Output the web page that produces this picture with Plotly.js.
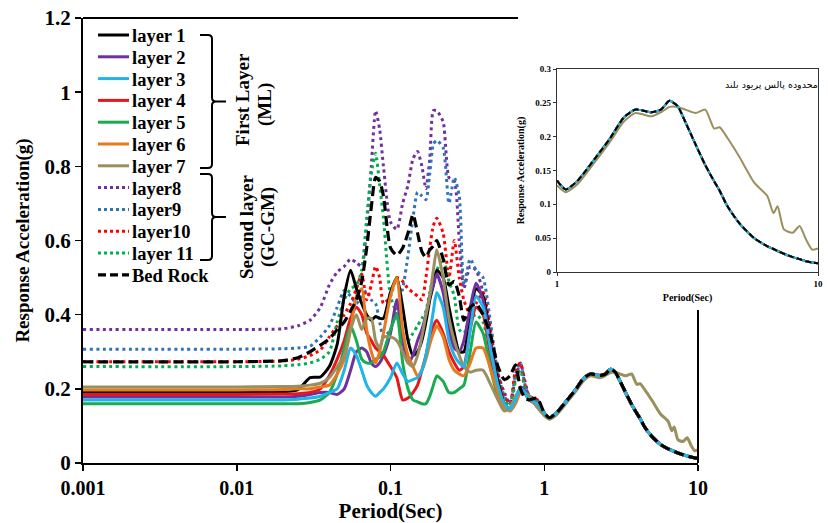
<!DOCTYPE html>
<html>
<head>
<meta charset="utf-8">
<script src="https://cdn.plot.ly/plotly-3.0.1.min.js"></script>
<style>
  html, body { margin: 0; padding: 0; background: #fff; }
  #chart { width: 828px; height: 523px; }
</style>
</head>
<body>
<div id="chart"></div>
<script>
// periods (s) for the short-period part and the long-period part
const periodsShort = [0.001, 0.01, 0.02, 0.025, 0.03, 0.035, 0.04, 0.045, 0.05,
  0.055, 0.06, 0.065, 0.07, 0.075, 0.08, 0.085, 0.09, 0.1,
  0.11, 0.12, 0.13, 0.14, 0.15, 0.16, 0.17, 0.18, 0.19,
  0.2, 0.22, 0.24, 0.26, 0.28, 0.3, 0.33, 0.36, 0.4,
  0.45, 0.5, 0.55, 0.6, 0.65, 0.7, 0.75, 0.8, 0.9];
const periodsLong = [1.0, 1.08, 1.2, 1.4, 1.6, 1.8, 2.0, 2.3, 2.5, 2.7, 2.9, 3.1, 3.4, 3.7,
  4.0, 4.2, 4.5, 5.0, 5.7, 6.4, 6.75, 7.0, 7.4, 8.0, 8.5, 9.0, 9.5, 10.0];

// spectral acceleration (g), short-period part
const layer1 = [0.19, 0.19, 0.192, 0.198, 0.23, 0.232, 0.26, 0.32, 0.45,
  0.52, 0.47, 0.43, 0.40, 0.385, 0.395, 0.39, 0.39, 0.46,
  0.50, 0.42, 0.33, 0.29, 0.30, 0.33, 0.38, 0.44, 0.48,
  0.52, 0.50, 0.42, 0.35, 0.30, 0.30, 0.40, 0.47, 0.45,
  0.32, 0.22, 0.16, 0.145, 0.17, 0.20, 0.19, 0.17, 0.16];
const layer2 = [0.178, 0.178, 0.178, 0.18, 0.185, 0.19, 0.19, 0.185, 0.20,
  0.25, 0.30, 0.31, 0.30, 0.27, 0.26, 0.27, 0.29, 0.35,
  0.44, 0.33, 0.27, 0.29, 0.33, 0.36, 0.40, 0.45, 0.48,
  0.51, 0.46, 0.36, 0.31, 0.30, 0.33, 0.42, 0.485, 0.44,
  0.32, 0.20, 0.155, 0.145, 0.17, 0.205, 0.195, 0.175, 0.16];
const layer3 = [0.17, 0.17, 0.17, 0.172, 0.175, 0.18, 0.19, 0.20, 0.25,
  0.31, 0.29, 0.25, 0.21, 0.19, 0.18, 0.19, 0.20, 0.23,
  0.27, 0.24, 0.22, 0.225, 0.23, 0.25, 0.29, 0.35, 0.41,
  0.46, 0.42, 0.33, 0.29, 0.27, 0.26, 0.36, 0.45, 0.42,
  0.30, 0.21, 0.16, 0.145, 0.17, 0.20, 0.19, 0.17, 0.16];
const layer4 = [0.185, 0.185, 0.186, 0.187, 0.19, 0.20, 0.235, 0.28, 0.33,
  0.39, 0.42, 0.40, 0.35, 0.33, 0.31, 0.30, 0.29, 0.26,
  0.23, 0.17, 0.175, 0.19, 0.21, 0.25, 0.29, 0.34, 0.37,
  0.385, 0.35, 0.30, 0.27, 0.25, 0.26, 0.36, 0.42, 0.40,
  0.28, 0.20, 0.155, 0.145, 0.17, 0.20, 0.19, 0.17, 0.16];
const layer5 = [0.16, 0.16, 0.16, 0.16, 0.163, 0.17, 0.19, 0.24, 0.31,
  0.37, 0.33, 0.28, 0.27, 0.27, 0.28, 0.285, 0.30, 0.36,
  0.40, 0.27, 0.20, 0.17, 0.165, 0.16, 0.16, 0.18, 0.21,
  0.235, 0.22, 0.19, 0.19, 0.20, 0.21, 0.30, 0.38, 0.35,
  0.25, 0.18, 0.15, 0.145, 0.17, 0.20, 0.19, 0.17, 0.16];
const layer6 = [0.197, 0.197, 0.198, 0.20, 0.20, 0.205, 0.21, 0.24, 0.28,
  0.36, 0.45, 0.47, 0.36, 0.30, 0.27, 0.30, 0.35, 0.45,
  0.50, 0.36, 0.29, 0.26, 0.235, 0.25, 0.28, 0.32, 0.35,
  0.37, 0.34, 0.28, 0.25, 0.24, 0.235, 0.27, 0.31, 0.31,
  0.25, 0.19, 0.15, 0.14, 0.16, 0.19, 0.185, 0.17, 0.155];
const layer7 = [0.205, 0.205, 0.206, 0.207, 0.21, 0.215, 0.23, 0.26, 0.29,
  0.36, 0.40, 0.36, 0.39, 0.39, 0.33, 0.31, 0.34, 0.34,
  0.33, 0.30, 0.27, 0.26, 0.29, 0.34, 0.40, 0.45, 0.52,
  0.575, 0.50, 0.39, 0.33, 0.29, 0.26, 0.245, 0.25, 0.25,
  0.21, 0.17, 0.14, 0.15, 0.18, 0.20, 0.19, 0.18, 0.15];
const layer8 = [0.36, 0.36, 0.362, 0.37, 0.385, 0.42, 0.48, 0.515, 0.53,
  0.55, 0.54, 0.53, 0.64, 0.80, 0.95, 0.90, 0.80, 0.65,
  0.63, 0.70, 0.75, 0.82, 0.84, 0.80, 0.74, 0.82, 0.95,
  0.95, 0.92, 0.77, 0.76, 0.60, 0.47, 0.53, 0.52, 0.46,
  0.33, 0.24, 0.19, 0.16, 0.23, 0.27, 0.22, 0.18, 0.17];
const layer9 = [0.307, 0.307, 0.308, 0.31, 0.315, 0.34, 0.37, 0.42, 0.465,
  0.45, 0.43, 0.45, 0.465, 0.44, 0.43, 0.38, 0.34, 0.36,
  0.42, 0.47, 0.56, 0.66, 0.73, 0.72, 0.71, 0.78, 0.86,
  0.87, 0.85, 0.70, 0.77, 0.72, 0.48, 0.55, 0.52, 0.50,
  0.37, 0.24, 0.18, 0.16, 0.24, 0.27, 0.21, 0.18, 0.17];
const layer10 = [0.273, 0.273, 0.275, 0.28, 0.29, 0.305, 0.34, 0.37, 0.40,
  0.43, 0.47, 0.51, 0.44, 0.48, 0.53, 0.50, 0.43, 0.45,
  0.50, 0.49, 0.47, 0.46, 0.45, 0.44, 0.50, 0.58, 0.64,
  0.66, 0.62, 0.50, 0.60, 0.50, 0.44, 0.40, 0.43, 0.46,
  0.35, 0.24, 0.18, 0.16, 0.25, 0.27, 0.21, 0.18, 0.17];
const layer11 = [0.26, 0.26, 0.262, 0.265, 0.27, 0.28, 0.30, 0.38, 0.44,
  0.47, 0.48, 0.52, 0.66, 0.78, 0.835, 0.75, 0.66, 0.45,
  0.40, 0.34, 0.33, 0.35, 0.37, 0.39, 0.41, 0.46, 0.50,
  0.52, 0.55, 0.49, 0.45, 0.36, 0.35, 0.39, 0.40, 0.38,
  0.28, 0.22, 0.17, 0.155, 0.22, 0.25, 0.20, 0.18, 0.165];
const bedRock = [0.273, 0.273, 0.276, 0.284, 0.30, 0.318, 0.335, 0.36, 0.38,
  0.41, 0.44, 0.49, 0.58, 0.69, 0.77, 0.76, 0.72, 0.58,
  0.56, 0.58, 0.62, 0.67, 0.62, 0.57, 0.555, 0.575, 0.585,
  0.60, 0.55, 0.48, 0.49, 0.45, 0.385, 0.42, 0.43, 0.40,
  0.34, 0.26, 0.225, 0.235, 0.265, 0.20, 0.175, 0.17, 0.175];

// long-period part: every record follows the rock motion except layer 7
const longCommon = [0.135, 0.122, 0.135, 0.168, 0.198, 0.228, 0.24, 0.236, 0.24, 0.253, 0.245, 0.222, 0.188, 0.158,
  0.134, 0.12, 0.097, 0.072, 0.05, 0.038, 0.034, 0.031, 0.027, 0.022, 0.019, 0.016, 0.014, 0.013];
const longLayer7 = [0.128, 0.118, 0.13, 0.163, 0.193, 0.222, 0.235, 0.23, 0.236, 0.244, 0.244, 0.24, 0.235, 0.24,
  0.212, 0.214, 0.198, 0.17, 0.132, 0.112, 0.087, 0.097, 0.063, 0.058, 0.068, 0.048, 0.033, 0.035];

const names = ['layer 1', 'layer 2', 'layer 3', 'layer 4', 'layer 5', 'layer 6', 'layer 7',
  'layer8', 'layer9', 'layer10', 'layer 11', 'Bed Rock'];
const colors = ['#000000', '#7030a0', '#1fb4ea', '#e8161b', '#1aab4f', '#e57a1f', '#9a8f5e',
  '#7030a0', '#2e75b6', '#ff0000', '#00b050', '#000000'];

const serif = 'Liberation Serif, Times New Roman, serif';
const px = x => x / 828;
const py = y => 1 - y / 523;

const periods = periodsShort.concat(periodsLong);
const shortSets = [layer1, layer2, layer3, layer4, layer5, layer6, layer7,
  layer8, layer9, layer10, layer11, bedRock];
const series = shortSets.map((s, i) => s.concat(i === 6 ? longLayer7 : longCommon));

function style(i, inset) {
  if (i >= 7 && i <= 10) return { color: colors[i], width: inset ? 1.6 : 3, dash: inset ? '2px,2px' : '3px,3.5px' };
  if (i === 11) return { color: colors[i], width: inset ? 2 : 3.2, dash: inset ? '6px,3px' : '10px,5px' };
  return { color: colors[i], width: inset ? 2 : 3 };
}

// draw order: dotted first, then solid, rock on top
const drawOrder = [7, 8, 9, 10, 0, 1, 3, 4, 5, 6, 2, 11];
const traces = [];
drawOrder.forEach(i => {
  traces.push({
    x: periods, y: series[i], mode: 'lines', name: names[i], showlegend: false,
    line: Object.assign(style(i, false), { shape: 'spline', smoothing: 0.6 }),
    xaxis: 'x', yaxis: 'y',
  });
});
[0, 1, 3, 4, 5, 7, 8, 9, 10, 6, 2, 11].forEach(i => {
  traces.push({
    x: periodsLong, y: i === 6 ? longLayer7 : longCommon, mode: 'lines', name: names[i],
    showlegend: false,
    line: Object.assign(style(i, true), { shape: 'spline', smoothing: 0.6 }),
    xaxis: 'x2', yaxis: 'y2',
  });
});

function bracket(top, bottom) {
  const mid = (top + bottom) / 2, v = 212;
  const pts = [['M', 200, top], ['L', 208, top], ['Q', v, top, v, top + 4], ['L', v, mid - 4],
    ['Q', v, mid, v + 4, mid], ['L', 226, mid], ['M', v + 4, mid], ['Q', v, mid, v, mid + 4],
    ['L', v, bottom - 4], ['Q', v, bottom, 208, bottom], ['L', 200, bottom]];
  return pts.map(p => {
    let s = p[0];
    for (let k = 1; k < p.length; k += 2) s += ' ' + px(p[k]) + ',' + py(p[k + 1]);
    return s;
  }).join(' ');
}

const bold = (size) => ({ family: serif, size: size, color: '#000', weight: 'bold' });

const shapes = [
  { type: 'line', xref: 'paper', yref: 'paper', x0: px(83), x1: px(518), y0: py(18), y1: py(18),
    line: { color: '#000', width: 2 } },
  { type: 'line', xref: 'paper', yref: 'paper', x0: px(698), x1: px(698), y0: py(310), y1: py(463),
    line: { color: '#000', width: 2 } },
  { type: 'path', xref: 'paper', yref: 'paper', path: bracket(35, 168), line: { color: '#000', width: 2 } },
  { type: 'path', xref: 'paper', yref: 'paper', path: bracket(174, 260), line: { color: '#000', width: 2 } },
];
const annotations = [
  { xref: 'paper', yref: 'paper', x: px(243), y: py(100), text: 'First Layer',
    textangle: -90, xanchor: 'center', yanchor: 'middle', showarrow: false, font: bold(19) },
  { xref: 'paper', yref: 'paper', x: px(265), y: py(105), text: '(ML)',
    textangle: -90, xanchor: 'center', yanchor: 'middle', showarrow: false, font: bold(19) },
  { xref: 'paper', yref: 'paper', x: px(247), y: py(227), text: 'Second layer',
    textangle: -90, xanchor: 'center', yanchor: 'middle', showarrow: false, font: bold(19) },
  { xref: 'paper', yref: 'paper', x: px(268), y: py(227), text: '(GC-GM)',
    textangle: -90, xanchor: 'center', yanchor: 'middle', showarrow: false, font: bold(19) },
  { xref: 'paper', yref: 'paper', x: px(820), y: py(77), text: 'محدوده پالس پریود بلند',
    showarrow: false, font: { family: 'DejaVu Sans', size: 9.5, color: '#000' } },
];

// legend: one row per record
names.forEach((n, i) => {
  const rowY = 35 + 21.8 * i;
  const st = style(i, false);
  shapes.push({ type: 'line', xref: 'paper', yref: 'paper', x0: px(98), x1: px(129), y0: py(rowY), y1: py(rowY),
    line: { color: st.color, width: st.width, dash: i >= 7 ? (i === 11 ? '8px,4px' : '3px,3px') : 'solid' } });
  annotations.push({ xref: 'paper', yref: 'paper', x: px(130), y: py(rowY + 1), text: n,
    xanchor: 'left', yanchor: 'middle', showarrow: false, font: bold(18.5) });
});

const layout = {
  width: 828, height: 523,
  margin: { l: 0, r: 0, t: 0, b: 0 },
  paper_bgcolor: '#fff', plot_bgcolor: '#fff',
  showlegend: false,
  xaxis: {
    type: 'log', domain: [px(83), px(698)], range: [-3, 1], anchor: 'y',
    tickvals: [0.001, 0.01, 0.1, 1, 10], ticktext: ['0.001', '0.01', '0.1', '1', '10'],
    ticks: 'outside', ticklen: 6, tickwidth: 1.5, tickcolor: '#000',
    showline: true, linewidth: 2, linecolor: '#000', showgrid: false, zeroline: false,
    tickfont: bold(20), title: { text: 'Period(Sec)', font: bold(21), standoff: 2 },
  },
  yaxis: {
    domain: [py(463), py(18)], range: [0, 1.2], dtick: 0.2, anchor: 'x',
    ticks: 'outside', ticklen: 6, tickwidth: 1.5, tickcolor: '#000',
    showline: true, linewidth: 2, linecolor: '#000', showgrid: false, zeroline: false,
    tickfont: bold(21), title: { text: 'Response Acceleration(g)', font: bold(19), standoff: 10 },
  },
  xaxis2: {
    type: 'log', domain: [px(557), px(818)], range: [0, 1], anchor: 'y2',
    tickvals: [1, 10], ticktext: ['1', '10'],
    ticks: 'outside', ticklen: 3, tickwidth: 1, tickcolor: '#333',
    showline: true, mirror: true, linewidth: 1.3, linecolor: '#333', showgrid: false, zeroline: false,
    tickfont: bold(9), title: { text: 'Period(Sec)', font: bold(10), standoff: 6 },
  },
  yaxis2: {
    domain: [py(272), py(69)], range: [0, 0.3], dtick: 0.05, anchor: 'x2',
    ticks: 'outside', ticklen: 3, tickwidth: 1, tickcolor: '#333',
    showline: true, mirror: true, linewidth: 1.3, linecolor: '#333', showgrid: false, zeroline: false,
    tickfont: bold(9), title: { text: 'Response Acceleration(g)', font: bold(10), standoff: 8 },
  },
  shapes: shapes,
  annotations: annotations,
};

Plotly.newPlot('chart', traces, layout, { staticPlot: true, displayModeBar: false });
</script>
</body>
</html>
